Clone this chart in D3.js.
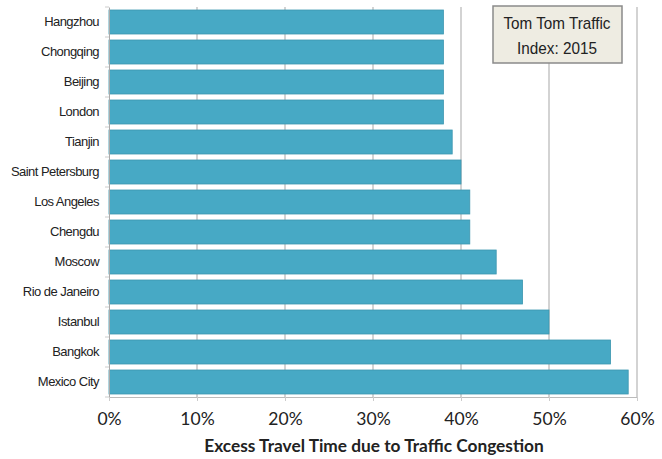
<!DOCTYPE html>
<meta charset="utf-8">
<head>
  <title>Tom Tom Traffic Index 2015</title>
  <script src="https://cdn.jsdelivr.net/npm/d3@7"></script>
  <style>
    body { margin: 0; background: #fff; }
    .cat text { font-family: "Liberation Sans", Arial, sans-serif; font-size: 13px; letter-spacing: -0.55px; fill: #222; }
    .xax text { font-family: Lato, "Open Sans", sans-serif; font-size: 17.5px; fill: #222; }
  </style>
</head>
<body>
<svg width="662" height="459"></svg>
<script>

  var cities = ["Hangzhou", "Chongqing", "Beijing", "London", "Tianjin", "Saint Petersburg",
                "Los Angeles", "Chengdu", "Moscow", "Rio de Janeiro", "Istanbul", "Bangkok", "Mexico City"];
  var congestion = [38, 38, 38, 38, 39, 40, 41, 41, 44, 47, 50, 57, 59];   // % excess travel time
  var xticks = [0, 10, 20, 30, 40, 50, 60];

  var pLeft = 109, pRight = 637, pTop = 7, pBottom = 397;

  var svg = d3.select("svg");

  var x = d3.scaleLinear().domain([0, 60]).range([pLeft, pRight]);
  var y = d3.scaleBand().domain(cities).range([pTop, pBottom]).paddingInner(0.2).paddingOuter(0.1);

  // vertical gridlines
  svg.append("g")
    .selectAll("line")
      .data(xticks.slice(1))
    .enter()
      .append("line")
      .attr("x1", function(d) { return x(d); })
      .attr("x2", function(d) { return x(d); })
      .attr("y1", pTop)
      .attr("y2", pBottom)
      .attr("stroke", "#c4c4c4")
      .attr("stroke-width", 1.5);

  // bars
  svg.append("g")
    .selectAll("rect")
      .data(cities)
    .enter()
      .append("rect")
      .attr("x", x(0))
      .attr("y", function(d) { return y(d); })
      .attr("width", function(d, i) { return x(congestion[i]) - x(0); })
      .attr("height", y.bandwidth())
      .attr("fill", "#47a9c5")
      .attr("stroke", "#3d97b0")
      .attr("stroke-width", 0.8);

  // category axis
  var yAxis = svg.append("g")
    .attr("class", "cat")
    .attr("transform", "translate(" + pLeft + ",0)")
    .call(d3.axisLeft(y).tickSize(0).tickPadding(10));
  yAxis.select(".domain").attr("stroke", "#aaa");

  // small ticks between categories
  svg.append("g")
    .selectAll("line")
      .data(d3.range(cities.length + 1))
    .enter()
      .append("line")
      .attr("x1", pLeft - 4)
      .attr("x2", pLeft)
      .attr("y1", function(i) { return pTop + i * (pBottom - pTop) / cities.length; })
      .attr("y2", function(i) { return pTop + i * (pBottom - pTop) / cities.length; })
      .attr("stroke", "#ccc");

  // value axis
  var xAxis = svg.append("g")
    .attr("class", "xax")
    .attr("transform", "translate(0," + pBottom + ")")
    .call(d3.axisBottom(x).tickValues(xticks).tickFormat(function(d) { return d + "%"; })
      .tickSize(4).tickPadding(12));
  xAxis.select(".domain").attr("stroke", "#bbb");
  xAxis.selectAll(".tick line").attr("stroke", "#ccc");

  svg.append("text")
    .attr("x", (pLeft + pRight) / 2 + 1)
    .attr("y", 452)
    .attr("text-anchor", "middle")
    .style("font-family", "Lato, 'Open Sans', sans-serif")
    .style("font-weight", "bold")
    .style("font-size", "17.3px")
    .style("fill", "#222")
    .text("Excess Travel Time due to Traffic Congestion");

  // legend box
  var box = svg.append("g").attr("transform", "translate(493,6)");
  box.append("rect")
    .attr("width", 129)
    .attr("height", 57)
    .attr("fill", "#eeece2")
    .attr("stroke", "#8a8a8a")
    .attr("stroke-width", 1.5);
  [["Tom Tom Traffic", 107], ["Index: 2015", 80]].forEach(function(t, i) {
    box.append("text")
      .attr("x", 64)
      .attr("y", 23 + i * 25)
      .attr("text-anchor", "middle")
      .attr("textLength", t[1])
      .attr("lengthAdjust", "spacingAndGlyphs")
      .style("font-family", "'Liberation Sans', Arial, sans-serif")
      .style("font-size", "17px")
      .style("fill", "#222")
      .text(t[0]);
  });

</script>
</body>
</html>
